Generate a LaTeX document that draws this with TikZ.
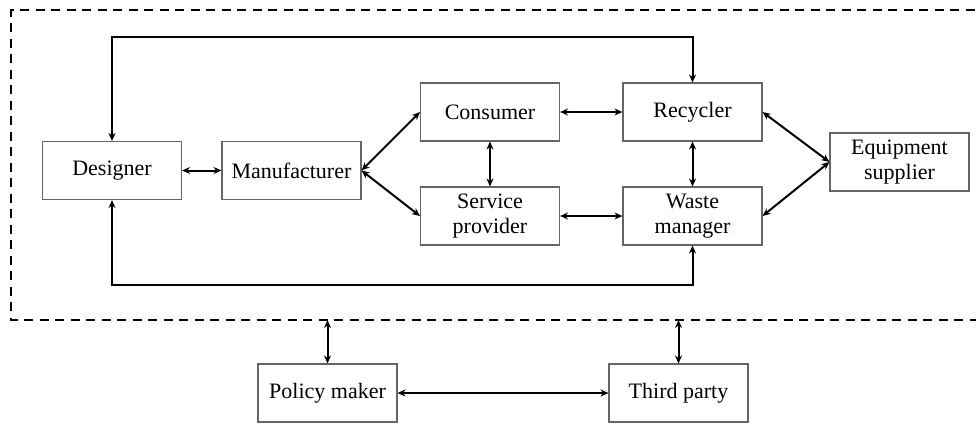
\documentclass[tikz,border=0pt]{standalone}
\usepackage{fontspec}
\setmainfont{Liberation Serif}
\usetikzlibrary{arrows.meta}
\begin{document}
\begin{tikzpicture}[x=1pt,y=-1pt,
  actor/.style={draw=black!60, line width=1.1pt, fill=white,
    minimum width=139pt, minimum height=58pt, inner sep=0pt,
    align=center, font=\fontsize{22}{25.5}\selectfont},
  link/.style={line width=2pt, {Stealth[length=8pt,width=7pt]}-{Stealth[length=8pt,width=7pt]}},
  boundary/.style={line width=2.2pt, dash pattern=on 9pt off 6.5pt}]
\useasboundingbox (0,0) rectangle (976,423);

% system boundary (right side runs off the page)
\draw[boundary] (990,10) -- (11,10) -- (11,320) -- (990,320);
\coordinate (bPolicy) at (327.5,320);
\coordinate (bThird) at (678.5,320);

% actors inside the boundary
\node[actor] (des) at (112,170.5) {Designer};
\node[actor] (man) at (291.5,170.5) {Manufacturer};
\node[actor] (con) at (490,112) {Consumer};
\node[actor] (ser) at (490,216) {Service\\provider};
\node[actor] (rec) at (692.5,112) {Recycler};
\node[actor] (was) at (692.5,216) {Waste\\manager};
\node[actor] (equ) at (899.5,162) {Equipment\\supplier};

% actors outside the boundary
\node[actor] (pol) at (327.5,393) {Policy maker};
\node[actor] (thi) at (678.5,393) {Third party};

% feedback loop corners
\coordinate (topR) at (692.5,37);
\coordinate (botR) at (692.5,285);

% links
\draw[link] (des) -- (man);
\draw[link] (man.east) -- (con.west);
\draw[link] (man.east) -- (ser.west);
\draw[link] (con) -- (rec);
\draw[link] (ser) -- (was);
\draw[link] (con) -- (ser);
\draw[link] (rec) -- (was);
\draw[link] (rec.east) -- (equ.west);
\draw[link] (equ.west) -- (was.east);
\draw[link] (des.north) |- (topR) -- (rec.north);
\draw[link] (des.south) |- (botR) -- (was.south);
\draw[link] (bPolicy) -- (pol.north);
\draw[link] (bThird) -- (thi.north);
\draw[link] (pol) -- (thi);
\end{tikzpicture}
\end{document}
